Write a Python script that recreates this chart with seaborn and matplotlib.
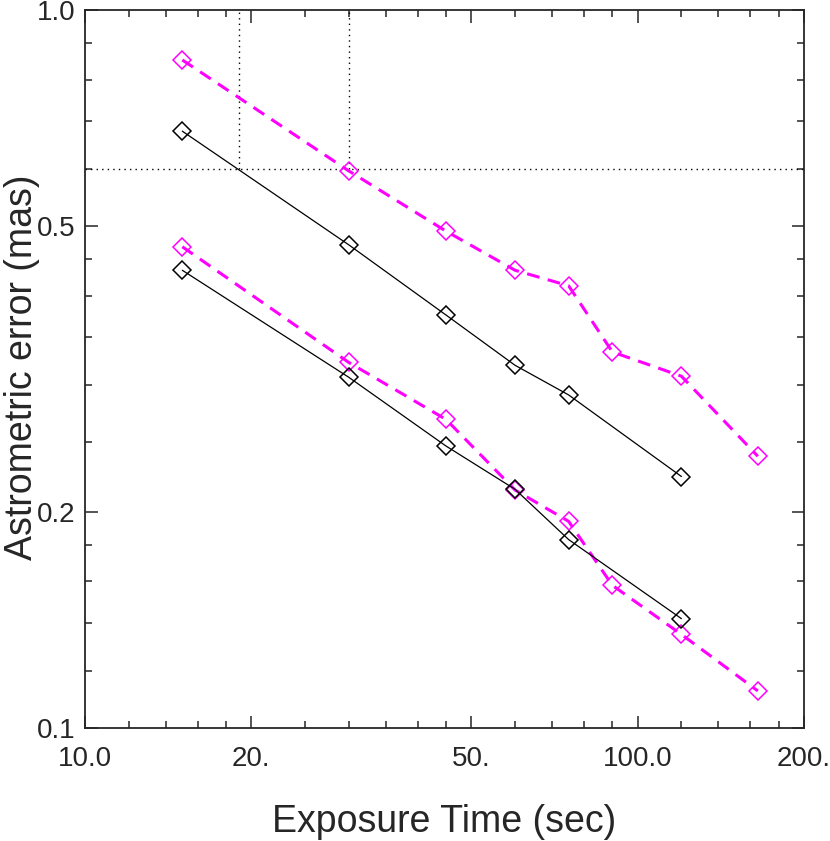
import numpy as np
import pandas as pd
import matplotlib
matplotlib.use("Agg")
import matplotlib.pyplot as plt
import seaborn as sns
from matplotlib.ticker import FixedLocator, NullFormatter

# exposure times (sec)
exp_time = [15, 30, 45, 60, 75, 90, 120, 165]
exp_time_black = [15, 30, 45, 60, 75, 120]

# astrometric error (mas)
magenta_upper = [0.852, 0.597, 0.492, 0.434, 0.413, 0.334, 0.309, 0.239]
magenta_lower = [0.468, 0.323, 0.269, 0.2145, 0.194, 0.158, 0.135, 0.1126]
black_upper = [0.678, 0.471, 0.376, 0.320, 0.291, 0.224]
black_lower = [0.434, 0.308, 0.247, 0.215, 0.183, 0.142]

# reference lines
ref_err = 0.6
ref_times = [19.0, 30.0]

x_major = [10, 20, 50, 100, 200]
x_major_labels = ["10.0", "20.", "50.", "100.0", "200."]
x_minor = [12, 14, 16, 18, 25, 30, 35, 40, 45, 60, 70, 80, 90, 120, 140, 160, 180]
y_major = [0.1, 0.2, 0.5, 1.0]
y_major_labels = ["0.1", "0.2", "0.5", "1.0"]
y_minor = [0.12, 0.14, 0.16, 0.18, 0.25, 0.3, 0.35, 0.4, 0.45, 0.6, 0.7, 0.8, 0.9]

sns.set_style("ticks")
plt.rcParams["font.family"] = ["Liberation Sans", "DejaVu Sans"]

fig = plt.figure(figsize=(8.3, 8.41), dpi=100)
ax = fig.add_axes([0.1024, 0.1344, 0.8663, 0.8537])

ax.set_xscale("log")
ax.set_yscale("log")
ax.set_xlim(10, 200)
ax.set_ylim(0.1, 1.0)

# dotted reference lines
ax.axhline(ref_err, color="black", linestyle=(0, (1, 3)), linewidth=1)
for t in ref_times:
    ax.plot([t, t], [ref_err, 1.0], color="black", linestyle=(0, (1, 3)), linewidth=1)

mk = dict(marker="D", markersize=9, markerfacecolor="none", markeredgewidth=1.1)
for ys in [magenta_upper, magenta_lower]:
    sns.lineplot(x=exp_time, y=ys, color="#FF00FF", linestyle=(0, (4.2, 2.8)),
                 linewidth=2.2, markeredgecolor="#FF00FF", ax=ax, **mk)
for ys in [black_upper, black_lower]:
    sns.lineplot(x=exp_time_black, y=ys, color="black", linestyle="-",
                 linewidth=0.9, markeredgecolor="black", ax=ax, **mk)

ax.xaxis.set_major_locator(FixedLocator(x_major))
ax.set_xticklabels(x_major_labels)
ax.xaxis.set_minor_locator(FixedLocator(x_minor))
ax.xaxis.set_minor_formatter(NullFormatter())
ax.yaxis.set_major_locator(FixedLocator(y_major))
ax.set_yticklabels(y_major_labels)
ax.yaxis.set_minor_locator(FixedLocator(y_minor))
ax.yaxis.set_minor_formatter(NullFormatter())

ax.tick_params(which="both", direction="in", top=True, right=True, width=1.1)
ax.tick_params(which="major", length=9, labelsize=20)
ax.tick_params(axis="x", which="major", pad=13)
ax.tick_params(axis="y", which="major", pad=7)
ax.tick_params(which="minor", length=5)
for s in ax.spines.values():
    s.set_linewidth(1.3)
    s.set_visible(True)

fig.text(0.535, 0.0107, "Exposure Time (sec)", fontsize=27, ha="center", va="baseline")
fig.text(0.0265, 0.5636, "Astrometric error (mas)", fontsize=27, rotation=90,
         ha="center", va="center")

fig.savefig("out.png", dpi=100)
